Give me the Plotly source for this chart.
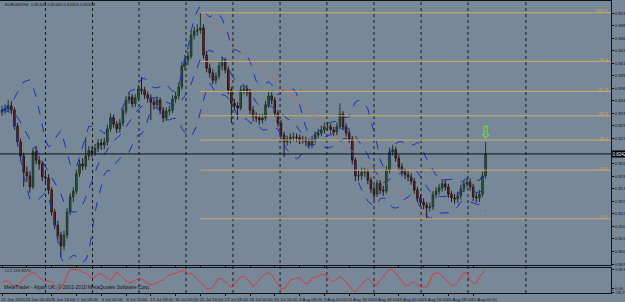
import plotly.graph_objects as go
import pandas as pd

# ---------------- data (EURGBP, bars) ----------------
close = [
    0.8326, 0.8328, 0.8334, 0.8326, 0.8295, 0.8265, 0.8238, 0.8207, 0.8200, 0.8179,
    0.8246, 0.8230, 0.8223, 0.8198, 0.8196, 0.8173, 0.8131, 0.8106, 0.8087, 0.8066,
    0.8087, 0.8131, 0.8160, 0.8171, 0.8204, 0.8223, 0.8219, 0.8238, 0.8248, 0.8244,
    0.8253, 0.8263, 0.8259, 0.8265, 0.8290, 0.8311, 0.8299, 0.8290, 0.8301, 0.8324,
    0.8345, 0.8351, 0.8338, 0.8349, 0.8366, 0.8364, 0.8355, 0.8349, 0.8341, 0.8336,
    0.8345, 0.8326, 0.8311, 0.8324, 0.8326, 0.8347, 0.8353, 0.8370, 0.8410, 0.8422,
    0.8429, 0.8469, 0.8477, 0.8479, 0.8483, 0.8431, 0.8406, 0.8397, 0.8383, 0.8391,
    0.8410, 0.8420, 0.8403, 0.8364, 0.8339, 0.8334, 0.8330, 0.8364, 0.8366, 0.8360,
    0.8326, 0.8313, 0.8311, 0.8307, 0.8311, 0.8336, 0.8353, 0.8345, 0.8320, 0.8301,
    0.8278, 0.8265, 0.8269, 0.8274, 0.8274, 0.8273, 0.8269, 0.8269, 0.8265, 0.8259,
    0.8269, 0.8278, 0.8282, 0.8288, 0.8294, 0.8294, 0.8288, 0.8284, 0.8294, 0.8318,
    0.8294, 0.8282, 0.8271, 0.8230, 0.8200, 0.8200, 0.8207, 0.8207, 0.8192, 0.8175,
    0.8165, 0.8186, 0.8173, 0.8171, 0.8211, 0.8246, 0.8250, 0.8234, 0.8217, 0.8207,
    0.8202, 0.8198, 0.8190, 0.8173, 0.8158, 0.8150, 0.8144, 0.8139, 0.8141, 0.8164,
    0.8171, 0.8177, 0.8185, 0.8179, 0.8165, 0.8158, 0.8156, 0.8162, 0.8175, 0.8185,
    0.8188, 0.8179, 0.8160, 0.8158, 0.8165, 0.8200, 0.8242]

high = [
    0.8334, 0.8337, 0.8345, 0.8343, 0.8331, 0.8301, 0.8272, 0.8244, 0.8218, 0.8209,
    0.8254, 0.8257, 0.8238, 0.8229, 0.8207, 0.8203, 0.8178, 0.8137, 0.8114, 0.8093,
    0.8095, 0.8139, 0.8167, 0.8178, 0.8212, 0.8231, 0.8234, 0.8274, 0.8257, 0.8256,
    0.8261, 0.8270, 0.8271, 0.8273, 0.8298, 0.8320, 0.8317, 0.8305, 0.8309, 0.8331,
    0.8353, 0.8359, 0.8357, 0.8356, 0.8374, 0.8389, 0.8370, 0.8361, 0.8356, 0.8348,
    0.8352, 0.8350, 0.8332, 0.8331, 0.8335, 0.8354, 0.8361, 0.8378, 0.8418, 0.8431,
    0.8438, 0.8477, 0.8486, 0.8490, 0.8512, 0.8490, 0.8438, 0.8415, 0.8404, 0.8398,
    0.8418, 0.8428, 0.8426, 0.8409, 0.8370, 0.8347, 0.8341, 0.8372, 0.8375, 0.8374,
    0.8366, 0.8333, 0.8321, 0.8318, 0.8319, 0.8343, 0.8362, 0.8360, 0.8351, 0.8326,
    0.8307, 0.8284, 0.8277, 0.8281, 0.8283, 0.8281, 0.8279, 0.8277, 0.8275, 0.8271,
    0.8276, 0.8285, 0.8290, 0.8296, 0.8302, 0.8303, 0.8300, 0.8294, 0.8302, 0.8339,
    0.8324, 0.8300, 0.8288, 0.8276, 0.8235, 0.8210, 0.8216, 0.8215, 0.8213, 0.8198,
    0.8182, 0.8193, 0.8192, 0.8181, 0.8219, 0.8254, 0.8259, 0.8256, 0.8240, 0.8224,
    0.8214, 0.8209, 0.8205, 0.8196, 0.8179, 0.8165, 0.8157, 0.8150, 0.8149, 0.8171,
    0.8179, 0.8185, 0.8194, 0.8192, 0.8185, 0.8171, 0.8166, 0.8170, 0.8183, 0.8192,
    0.8197, 0.8195, 0.8185, 0.8168, 0.8173, 0.8208, 0.8265]

low = [
    0.8315, 0.8319, 0.8322, 0.8318, 0.8288, 0.8258, 0.8229, 0.8179, 0.8189, 0.8168,
    0.8175, 0.8222, 0.8212, 0.8190, 0.8185, 0.8165, 0.8124, 0.8098, 0.8078, 0.8045,
    0.8058, 0.8080, 0.8125, 0.8150, 0.8165, 0.8198, 0.8211, 0.8212, 0.8230, 0.8236,
    0.8238, 0.8246, 0.8250, 0.8251, 0.8258, 0.8284, 0.8292, 0.8282, 0.8283, 0.8295,
    0.8318, 0.8338, 0.8331, 0.8332, 0.8343, 0.8356, 0.8347, 0.8340, 0.8307, 0.8327,
    0.8329, 0.8318, 0.8303, 0.8305, 0.8316, 0.8320, 0.8340, 0.8346, 0.8365, 0.8402,
    0.8412, 0.8424, 0.8461, 0.8468, 0.8472, 0.8424, 0.8398, 0.8388, 0.8375, 0.8376,
    0.8385, 0.8402, 0.8396, 0.8356, 0.8301, 0.8325, 0.8307, 0.8325, 0.8356, 0.8352,
    0.8318, 0.8304, 0.8303, 0.8298, 0.8300, 0.8305, 0.8330, 0.8337, 0.8313, 0.8294,
    0.8270, 0.8236, 0.8258, 0.8262, 0.8266, 0.8265, 0.8261, 0.8262, 0.8257, 0.8252,
    0.8253, 0.8263, 0.8272, 0.8276, 0.8281, 0.8286, 0.8281, 0.8276, 0.8278, 0.8289,
    0.8287, 0.8275, 0.8263, 0.8222, 0.8190, 0.8191, 0.8193, 0.8198, 0.8184, 0.8167,
    0.8154, 0.8160, 0.8165, 0.8162, 0.8166, 0.8205, 0.8239, 0.8227, 0.8210, 0.8199,
    0.8194, 0.8190, 0.8183, 0.8166, 0.8150, 0.8142, 0.8136, 0.8118, 0.8132, 0.8135,
    0.8157, 0.8164, 0.8170, 0.8172, 0.8158, 0.8150, 0.8147, 0.8149, 0.8155, 0.8169,
    0.8178, 0.8172, 0.8152, 0.8149, 0.8150, 0.8160, 0.8195]

first_open = 0.8322

cci = [
    38, 51, 51, 31, 19, 19, 44, 70, 83, 96,
    109, 96, 77, 57, 51, 51, 44, 25, -7, 6,
    38, 90, 128, 125, 122, 122, 109, 103, 90, 70,
    77, 96, 96, 83, 70, 51, 77, 109, 90, 70,
    51, 38, 44, 57, 64, 64, 51, 38, 25, 31,
    38, 51, 57, 77, 90, 96, 103, 109, 116, 122,
    96, 103, 83, 64, 44, 25, -1, -1, 12, 38,
    70, 64, 44, 25, 12, 31, 57, 77, 83, 64,
    44, 12, 38, 57, 83, 96, 109, 90, 57, 25,
    -1, -1, 31, 57, 64, 70, 70, 51, 31, 38,
    70, 77, 83, 96, 90, 77, 57, 44, 64, 77,
    64, 44, 19, -7, -20, 6, 25, 51, 70, 51,
    25, 25, 57, 83, 109, 128, 122, 103, 77, 51,
    25, 19, 38, 44, 25, 12, 12, 12, 51, 96,
    103, 103, 83, 64, 44, 19, 25, 44, 77, 103,
    103, 57, 38, 38, 77, 103, 115.927]

x_tick_labels = ["21 Jun 2010", "24 Jun 00:00", "28 Jun 16:00", "1 Jul 08:00", "6 Jul 00:00",
                 "8 Jul 16:00", "13 Jul 08:00", "16 Jul 00:00", "20 Jul 16:00", "23 Jul 08:00",
                 "28 Jul 00:00", "30 Jul 16:00", "4 Aug 08:00", "9 Aug 00:00", "11 Aug 16:00",
                 "16 Aug 08:00", "19 Aug 00:00", "23 Aug 16:00", "26 Aug 08:00", "31 Aug 00:00"]

price_tick_labels = ["0.85115", "0.84875", "0.84635", "0.84395", "0.84155", "0.83915", "0.83675",
                     "0.83435", "0.83195", "0.82955", "0.82715", "0.82475", "0.82235", "0.81995",
                     "0.81755", "0.81515", "0.81275", "0.81035", "0.80795", "0.80555", "0.80315"]

cci_tick_labels = ["128.903", "0.00", "-26.788"]

fib_ratios = [1.0, 0.764, 0.618, 0.5, 0.382, 0.236, 0.0]
fib_texts = ["100.0", "76.4", "61.8", "50.0", "38.2", "23.6", "0.0"]

# ---------------- styling / layout constants ----------------
BG = "#778899"
FONT = "Liberation Sans"
INK = "#101418"
FIB_COL = "#d2a865"
BAND_COL = "#1c2fb8"
W, H = 625, 302
PLOT_R = 611             # pixel where price scale starts
X0, X1 = -0.645, 196.45  # x range in bar units
grid_bars = [14.03, 29.2, 44.2, 59.35, 74.5, 89.7, 104.8, 120.0, 135.2, 150.3, 169.0]

n = len(close)
idx = list(range(n))
opens = [first_open] + close[:-1]

s = pd.Series(close)
mid = s.rolling(10, min_periods=1).mean()
sd = s.rolling(10, min_periods=1).std(ddof=0).fillna(0)
upper = mid + 2 * sd
lower = mid - 2 * sd

fig = go.Figure()

for band in (upper, mid, lower):
    fig.add_trace(go.Scatter(x=idx, y=band, mode="lines", xaxis="x", yaxis="y",
                             line=dict(color=BAND_COL, width=1, dash="dash"),
                             hoverinfo="skip", showlegend=False))

fig.add_trace(go.Candlestick(
    x=idx, open=opens, high=high, low=low, close=close, xaxis="x", yaxis="y",
    increasing=dict(line=dict(color="#1d3326", width=1), fillcolor="#2f6a43"),
    decreasing=dict(line=dict(color="#2b1616", width=1), fillcolor="#7d2626"),
    whiskerwidth=0, showlegend=False, hoverinfo="skip"))

fig.add_trace(go.Scatter(x=idx, y=cci, mode="lines", xaxis="x", yaxis="y2",
                         line=dict(color="#d83a3a", width=1),
                         hoverinfo="skip", showlegend=False))

# arrow object above the last bar
fig.add_trace(go.Scatter(x=[idx[-1]], y=[high[-1]], mode="text", text=["⇩"],
                         textposition="top center", xaxis="x", yaxis="y",
                         textfont=dict(family="DejaVu Sans", size=17, color="#6fe02a"),
                         hoverinfo="skip", showlegend=False))

# fibonacci: from the swing high to the lowest low after it
hi = max(high)
i_hi = high.index(hi)
lo = min(low[i_hi:])
i_lo = i_hi + low[i_hi:].index(lo)

shapes = []
main_dom = [37 / H, 301 / H]
cci_dom = [9 / H, 34 / H]

for gx in grid_bars:
    shapes.append(dict(type="line", xref="x", yref="paper", x0=gx, x1=gx,
                       y0=cci_dom[0], y1=main_dom[1],
                       line=dict(color="#1a1a1a", width=1, dash="dot"), layer="below"))

for r in fib_ratios:
    yv = lo + r * (hi - lo)
    shapes.append(dict(type="line", xref="x", yref="y", x0=i_hi, x1=X1, y0=yv, y1=yv,
                       line=dict(color=FIB_COL, width=1)))

shapes.append(dict(type="line", xref="x", yref="y", x0=i_hi, y0=hi, x1=i_lo, y1=lo,
                   line=dict(color="#e05a4a", width=1, dash="dot")))

shapes.append(dict(type="line", xref="x domain", yref="y", x0=0, x1=1,
                   y0=close[-1], y1=close[-1], line=dict(color="#111111", width=1)))

annotations = []
for r, t in zip(fib_ratios, fib_texts):
    yv = lo + r * (hi - lo)
    annotations.append(dict(x=X1 - 0.4, y=yv, xref="x", yref="y", text=t, showarrow=False,
                            xanchor="right", yanchor="middle", yshift=1,
                            font=dict(family=FONT, size=4.5, color=FIB_COL)))

annotations.append(dict(x=PLOT_R / W, y=close[-1], xref="paper", yref="y",
                        text=f"{close[-1]:.5f}", showarrow=False, xanchor="left",
                        yanchor="middle", bgcolor="#000000", borderpad=0.5,
                        font=dict(family=FONT, size=4.5, color="#ffffff")))

annotations.append(dict(x=3 / W, y=1 - 5 / H, xref="paper", yref="paper",
                        text="EURGBP,H4  0.82405 0.82450 0.82326 0.82429", showarrow=False,
                        xanchor="left", yanchor="middle",
                        font=dict(family=FONT, size=4.2, color=INK)))
annotations.append(dict(x=3 / W, y=1 - 270.5 / H, xref="paper", yref="paper",
                        text=f"CCI {cci[-1]:.4f}", showarrow=False,
                        xanchor="left", yanchor="middle",
                        font=dict(family=FONT, size=4.2, color=INK)))
annotations.append(dict(x=2 / W, y=1 - 292 / H, xref="paper", yref="paper",
                        text="MetaTrader - Alpari UK, © 2001-2010 MetaQuotes Software Corp.",
                        showarrow=False, xanchor="left", yanchor="bottom",
                        font=dict(family=FONT, size=5, color=INK)))

small = dict(family=FONT, size=4.3, color=INK)

fig.update_layout(
    width=W, height=H,
    margin=dict(l=0, r=0, t=0, b=0, autoexpand=False),
    paper_bgcolor=BG, plot_bgcolor=BG,
    showlegend=False,
    shapes=shapes, annotations=annotations,
    xaxis=dict(domain=[0, PLOT_R / W], range=[X0, X1], anchor="y2", automargin=False,
               tickvals=list(range(0, 8 * len(x_tick_labels), 8)), ticktext=x_tick_labels,
               tickfont=small, tickangle=0,
               ticks="outside", ticklen=2, tickcolor=INK,
               ticklabelshift=11, ticklabelstandoff=0,
               showgrid=False, zeroline=False, showline=True, linecolor=INK,
               linewidth=1, mirror="all", rangeslider=dict(visible=False)),
    yaxis=dict(domain=main_dom, range=[0.80296, 0.85345], side="right", anchor="x",
               automargin=False,
               tickvals=[float(t) for t in price_tick_labels], ticktext=price_tick_labels,
               tickfont=small, ticks="outside", ticklen=2, tickcolor=INK,
               ticklabelstandoff=0,
               showgrid=False, zeroline=False, showline=True, linecolor=INK,
               linewidth=1, mirror=True),
    yaxis2=dict(domain=cci_dom, range=[-27.0, 135.4], side="right", anchor="x",
                automargin=False,
                tickvals=[float(t) for t in cci_tick_labels], ticktext=cci_tick_labels,
                tickfont=small, ticks="outside", ticklen=2, tickcolor=INK,
                ticklabelstandoff=0,
                showgrid=False, zeroline=False, showline=True, linecolor=INK,
                linewidth=1, mirror=True),
)

fig.write_html("out.html")
